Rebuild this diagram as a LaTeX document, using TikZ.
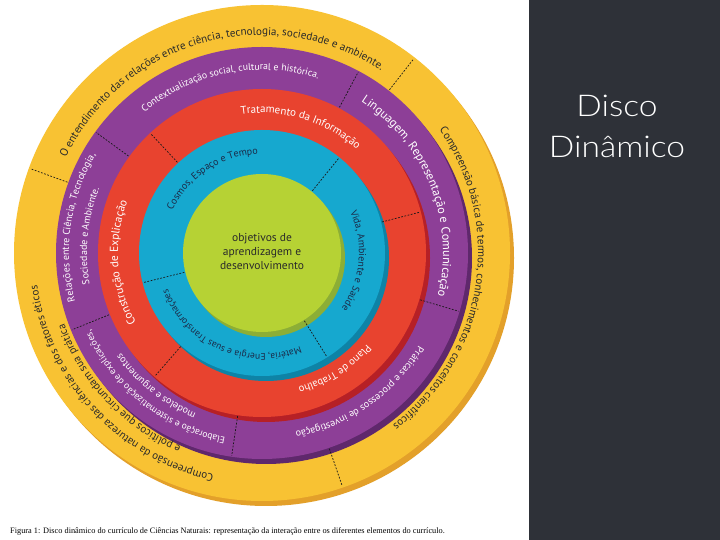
\documentclass[tikz,border=0pt]{standalone}
\usepackage{fontspec}
\setmainfont{PT Sans}
\newfontfamily\titlefont{Lato Light}
\newfontfamily\capfont{Liberation Serif}
\usetikzlibrary{decorations.text,calc}
\definecolor{yel}{HTML}{F8C233}
\definecolor{yeldark}{HTML}{E3A02A}
\definecolor{pur}{HTML}{8D3F97}
\definecolor{purdark}{HTML}{5F286C}
\definecolor{redd}{HTML}{E8432F}
\definecolor{reddark}{HTML}{B62026}
\definecolor{blu}{HTML}{16A8CF}
\definecolor{bludark}{HTML}{0E83A6}
\definecolor{grn}{HTML}{B6D234}
\definecolor{grndark}{HTML}{8CAE36}
\definecolor{panel}{HTML}{2E3138}
\definecolor{navy}{HTML}{1B2A48}
\definecolor{ink}{HTML}{2A2A2A}
\tikzset{divider/.style={draw=black!90,line width=0.7pt,dash pattern=on 1.8pt off 1.5pt}}
\newcommand\ringtext[5]{%
  \path[decorate,decoration={text along path,text align=center,text color=#4,
    text={|\fontsize{#3}{#3}\selectfont|#5}}]
    ($(C)+({#2+90}:#1)$) arc[start angle={#2+90},end angle={#2-90},radius=#1];}
\newcommand\ringdiv[3]{\draw[divider] ($(C)+(#1:#2)$) -- ($(C)+(#1:#3)$);}
\newcommand\layer[4]{%
  \fill[#4] ($(C)+(4,-5)$) circle[radius=#1];
  \fill[#3] (C) circle[radius=#1];}
\begin{document}
\begin{tikzpicture}[x=1pt,y=1pt]
\useasboundingbox (0,0) rectangle (720,540);
\fill[white] (0,0) rectangle (529,540);
\fill[panel] (529,0) rectangle (720,540);
\coordinate (C) at (262,287);
% discs
\layer{248}{}{yel}{yeldark}
\layer{206}{}{pur}{purdark}
\layer{164}{}{redd}{reddark}
\layer{123}{}{blu}{bludark}
\layer{79}{}{grn}{grndark}
% dividers
\ringdiv{160}{207}{246}
\ringdiv{52}{207}{246}
\ringdiv{-71}{207}{246}
\ringdiv{144}{165}{205}
\ringdiv{62}{165}{205}
\ringdiv{-16.5}{165}{205}
\ringdiv{-98.5}{165}{205}
\ringdiv{-158}{165}{205}
\ringdiv{133}{124}{163}
\ringdiv{14.5}{124}{163}
\ringdiv{-131}{124}{163}
\ringdiv{51}{80}{122}
\ringdiv{-58}{80}{122}
\ringdiv{-166}{80}{122}
% yellow ring texts
\ringtext{218}{105.5}{11.1}{ink}{O entendimento das relações entre ciência, tecnologia, sociedade e ambiente.}
\ringtext{216}{-9}{11}{ink}{Compreensão básica de termos, conhecimentos e conceitos científicos}
\ringtext{227}{-137}{11}{ink}{Compreensão da natureza das ciências e dos fatores éticos}
\ringtext{210}{-136.5}{11}{ink}{e políticos que circundam sua prática}
% purple ring texts
\ringtext{183}{101}{9.8}{white}{Contextualização social, cultural e histórica.}
\ringtext{181}{21.5}{12.2}{white}{Linguagem, Representação e Comunicação}
\ringtext{182}{-55}{10}{white}{Práticas e processos de investigação}
\ringtext{188}{-128.5}{9.5}{white}{Elaboração e sistematização de explicações,}
\ringtext{173}{-128.5}{10}{white}{modelos e argumentos}
\ringtext{193}{172}{10}{white}{Relações entre Ciência, Tecnologia,}
\ringtext{175}{174.3}{10}{white}{Sociedade e Ambiente.}
% red ring texts
\ringtext{140}{73}{11}{white}{Tratamento da Informação}
\ringtext{139}{-58}{10.5}{white}{Plano de Trabalho}
\ringtext{144}{184}{11.5}{white}{Construção de Explicação}
% blue ring texts
\ringtext{99}{123.5}{10}{navy}{Cosmos, Espaço e Tempo}
\ringtext{97}{-5}{10}{navy}{Vida, Ambiente e Saúde}
\ringtext{101}{-113.5}{9.5}{navy}{Matéria, Energia e suas Transformações}
% centre
\node[align=center,text=ink,font=\fontsize{11.5}{14}\selectfont] (goal) at (262,288) {objetivos de\\aprendizagem e\\desenvolvimento};
% title
\node[anchor=base,text=white,font=\titlefont\fontsize{30}{30}\selectfont,inner sep=0] (t1) at (617,423) {\scalebox{1.12}[1]{Disco}};
\node[anchor=base,text=white,font=\titlefont\fontsize{30}{30}\selectfont,inner sep=0] (t2) at (617,382) {\scalebox{1.12}[1]{Dinâmico}};
% caption
\node[anchor=base west,text=black,font=\capfont\fontsize{8.3}{9}\selectfont,inner sep=0] (cap) at (10,6) {Figura 1: Disco dinâmico do currículo de Ciências Naturais: representação da interação entre os diferentes elementos do currículo.};
\end{tikzpicture}
\end{document}
